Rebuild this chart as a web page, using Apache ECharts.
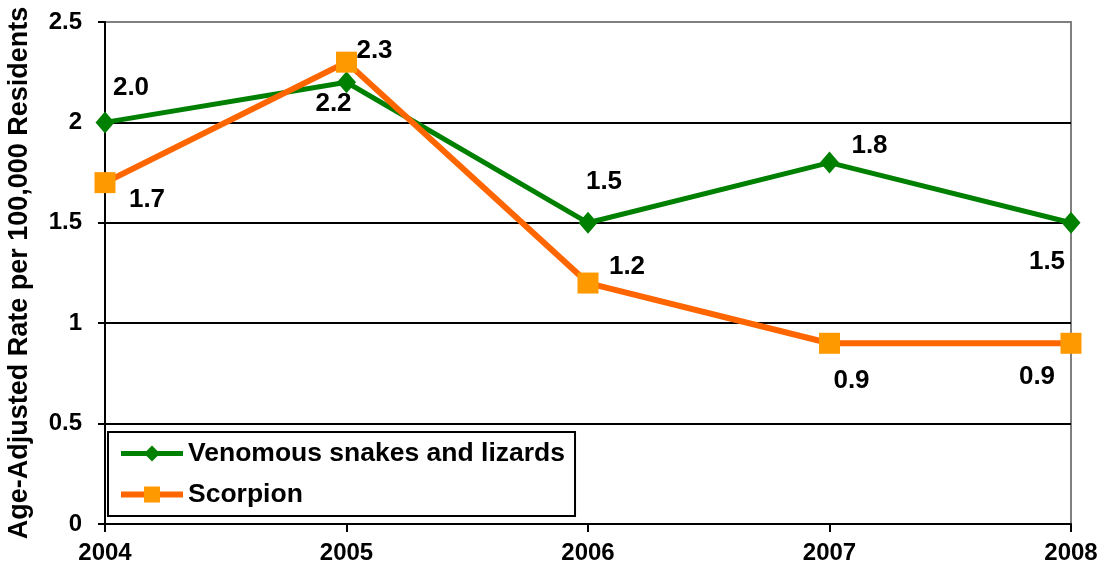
<!DOCTYPE html>
<html>
<head>
<meta charset="utf-8">
<script src="https://cdn.jsdelivr.net/npm/echarts@6/dist/echarts.min.js"></script>
<style>
  html, body { margin: 0; padding: 0; background: #fff; }
  #chart { width: 1102px; height: 574px; }
</style>
</head>
<body>
<div id="chart"></div>
<script>
// Age-adjusted rates per 100,000 residents, by year
const years = ['2004', '2005', '2006', '2007', '2008'];
const snakesLizards = [2.0, 2.2, 1.5, 1.8, 1.5];
const scorpion = [1.7, 2.3, 1.2, 0.9, 0.9];
const yTicks = [0, 0.5, 1, 1.5, 2, 2.5];

// Where each value label sits relative to its marker (px)
const snakeLabelOffsets = [[26, -35], [-13, 22], [16, -41], [40, -17], [-24, 39]];
const scorpionLabelOffsets = [[42, 17], [28, -11], [39, -16], [22, 38], [-34, 34]];

const FONT = 'Liberation Sans, Arial, sans-serif';

function labelled(values, offsets, fixed) {
  return values.map((v, i) => ({
    value: v,
    label: { offset: offsets[i], formatter: () => v.toFixed(fixed) }
  }));
}

const chart = echarts.init(document.getElementById('chart'), null, { renderer: 'canvas' });

chart.setOption({
  backgroundColor: '#fff',
  animation: false,
  grid: {
    left: 105, right: 31, top: 22, bottom: 50,
    outerBoundsMode: 'none',
    containLabel: false,
    show: true, borderColor: '#808080', borderWidth: 2, backgroundColor: 'transparent'
  },
  legend: {
    orient: 'vertical',
    left: 108, top: 432,
    borderColor: '#000', borderWidth: 2, borderRadius: 0,
    padding: [8, 10, 8, 10],
    itemWidth: 62, itemHeight: 20, itemGap: 14,
    textStyle: { fontFamily: FONT, fontWeight: 'bold', fontSize: 26.5, color: '#000' },
    data: [
      { name: 'Venomous snakes and lizards', lineStyle: { width: 5 } },
      { name: 'Scorpion', lineStyle: { width: 6 } }
    ]
  },
  xAxis: {
    type: 'category',
    data: years,
    boundaryGap: false,
    axisLine: { lineStyle: { color: '#000', width: 2 } },
    axisTick: { show: true, length: 8, inside: false, lineStyle: { color: '#000', width: 2 } },
    axisLabel: { fontFamily: FONT, fontWeight: 'bold', fontSize: 24, color: '#000', margin: 17 },
    splitLine: { show: false }
  },
  yAxis: {
    type: 'value',
    min: yTicks[0], max: yTicks[yTicks.length - 1], interval: 0.5,
    name: 'Age-Adjusted Rate per 100,000 Residents',
    nameLocation: 'middle',
    nameGap: 72,
    nameTextStyle: { fontFamily: FONT, fontWeight: 'bold', fontSize: 27, color: '#000' },
    axisLine: { show: true, lineStyle: { color: '#000', width: 2 } },
    axisTick: { show: true, length: 7, lineStyle: { color: '#000', width: 2 } },
    axisLabel: {
      fontFamily: FONT, fontWeight: 'bold', fontSize: 24, color: '#000', margin: 23,
      formatter: v => String(v)
    },
    splitLine: {
      show: true,
      lineStyle: { color: ['#000', '#000', '#000', '#000', '#000', '#808080'], width: 2 }
    }
  },
  series: [
    {
      name: 'Venomous snakes and lizards',
      type: 'line',
      data: labelled(snakesLizards, snakeLabelOffsets, 1),
      symbol: 'diamond',
      symbolSize: [19, 22],
      showAllSymbol: true,
      lineStyle: { color: '#008000', width: 5 },
      itemStyle: { color: '#008000' },
      label: {
        show: true, position: 'inside',
        fontFamily: FONT, fontWeight: 'bold', fontSize: 26, color: '#000'
      },
      z: 2
    },
    {
      name: 'Scorpion',
      type: 'line',
      data: labelled(scorpion, scorpionLabelOffsets, 1),
      symbol: 'rect',
      symbolSize: 21,
      showAllSymbol: true,
      lineStyle: { color: '#FF6600', width: 6 },
      itemStyle: { color: '#FF9900' },
      label: {
        show: true, position: 'inside',
        fontFamily: FONT, fontWeight: 'bold', fontSize: 26, color: '#000'
      },
      z: 3
    }
  ]
});
</script>
</body>
</html>
